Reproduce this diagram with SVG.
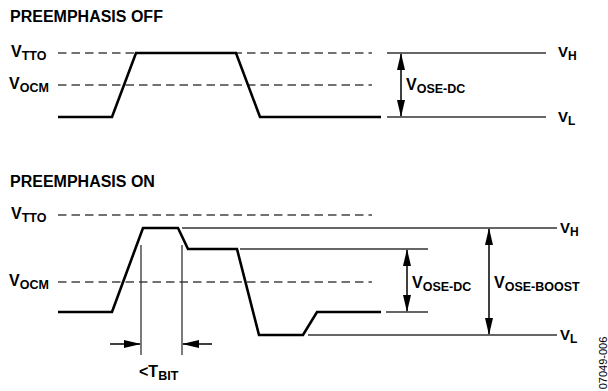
<svg xmlns="http://www.w3.org/2000/svg" width="608" height="391" viewBox="0 0 608 391">
<defs>
<marker id="ah" markerUnits="userSpaceOnUse" markerWidth="17" markerHeight="8" viewBox="0 0 17 8" refX="16" refY="4" orient="auto-start-reverse">
<path d="M0,0 L17,4 L0,8 z" fill="#000"/>
</marker>
<style>
.t{font-family:"Liberation Sans",Arial,sans-serif;font-weight:bold;fill:#000}
.h{font-size:16px}
.v{font-size:16px}
.s{font-size:12.5px}
.vs{font-size:15px}
.ss{font-size:12px}
.dash{stroke:#444;stroke-width:1.3;stroke-dasharray:8.5 5;fill:none}
.thin{stroke:#333;stroke-width:1.3;fill:none}
.wave{stroke:#000;stroke-width:2.6;fill:none;stroke-linejoin:miter}
.arr{stroke:#000;stroke-width:1.5;fill:none}
.id{font-family:"Liberation Sans",Arial,sans-serif;font-size:11px;fill:#000}
</style>
</defs>
<rect width="608" height="391" fill="#fff"/>

<g id="off">
<text class="t h" x="10" y="22">PREEMPHASIS OFF</text>
<text class="t v" x="11" y="57">V<tspan class="s" dy="3">TTO</tspan></text>
<text class="t v" x="9" y="89">V<tspan class="s" dy="3">OCM</tspan></text>
<line class="dash" x1="58" y1="53" x2="372" y2="53"/>
<line class="dash" x1="58" y1="85" x2="372" y2="85"/>
<polyline class="wave" points="58,117 112,117 136,53 236,53 260,117 381,117"/>
<line class="thin" x1="387" y1="53" x2="546" y2="53"/>
<line class="thin" x1="387" y1="117" x2="546" y2="117"/>
<line class="arr" x1="401" y1="54" x2="401" y2="116" marker-start="url(#ah)" marker-end="url(#ah)"/>
<text class="t v" x="406" y="90">V<tspan class="s" dy="3">OSE-DC</tspan></text>
<text class="t vs" x="558" y="57">V<tspan class="ss" dy="3">H</tspan></text>
<text class="t vs" x="558" y="122">V<tspan class="ss" dy="3">L</tspan></text>
</g>

<g id="on">
<text class="t h" x="10" y="187">PREEMPHASIS ON</text>
<text class="t v" x="11" y="219">V<tspan class="s" dy="3">TTO</tspan></text>
<text class="t v" x="9" y="286">V<tspan class="s" dy="3">OCM</tspan></text>
<line class="dash" x1="58" y1="215" x2="372" y2="215"/>
<line class="dash" x1="58" y1="282" x2="372" y2="282"/>
<polyline class="wave" points="58,312 112,312 143,228 178,228 188,249 237,249 259,335 303,335 317,312 381,312"/>
<line class="thin" x1="182" y1="228" x2="557" y2="228"/>
<line class="thin" x1="240" y1="249" x2="428" y2="249"/>
<line class="thin" x1="386" y1="312" x2="428" y2="312"/>
<line class="thin" x1="308" y1="335" x2="557" y2="335"/>
<line class="arr" x1="407" y1="250" x2="407" y2="311" marker-start="url(#ah)" marker-end="url(#ah)"/>
<line class="arr" x1="489" y1="229" x2="489" y2="334" marker-start="url(#ah)" marker-end="url(#ah)"/>
<text class="t v" x="412" y="288">V<tspan class="s" dy="3">OSE-DC</tspan></text>
<text class="t v" x="494" y="288">V<tspan class="s" dy="3">OSE-BOOST</tspan></text>
<text class="t vs" x="560" y="233">V<tspan class="ss" dy="3">H</tspan></text>
<text class="t vs" x="560" y="340">V<tspan class="ss" dy="3">L</tspan></text>
<line class="thin" x1="141" y1="245" x2="141" y2="355" stroke="#000"/>
<line class="thin" x1="182" y1="245" x2="182" y2="355" stroke="#000"/>
<line class="arr" x1="110" y1="344" x2="140" y2="344" marker-end="url(#ah)"/>
<line class="arr" x1="212" y1="344" x2="183" y2="344" marker-end="url(#ah)"/>
<text class="t v" x="139" y="377">&lt;T<tspan class="s" dy="3">BIT</tspan></text>
</g>

<text class="id" transform="translate(607,363) rotate(-90)" text-anchor="middle">07049-006</text>
</svg>
